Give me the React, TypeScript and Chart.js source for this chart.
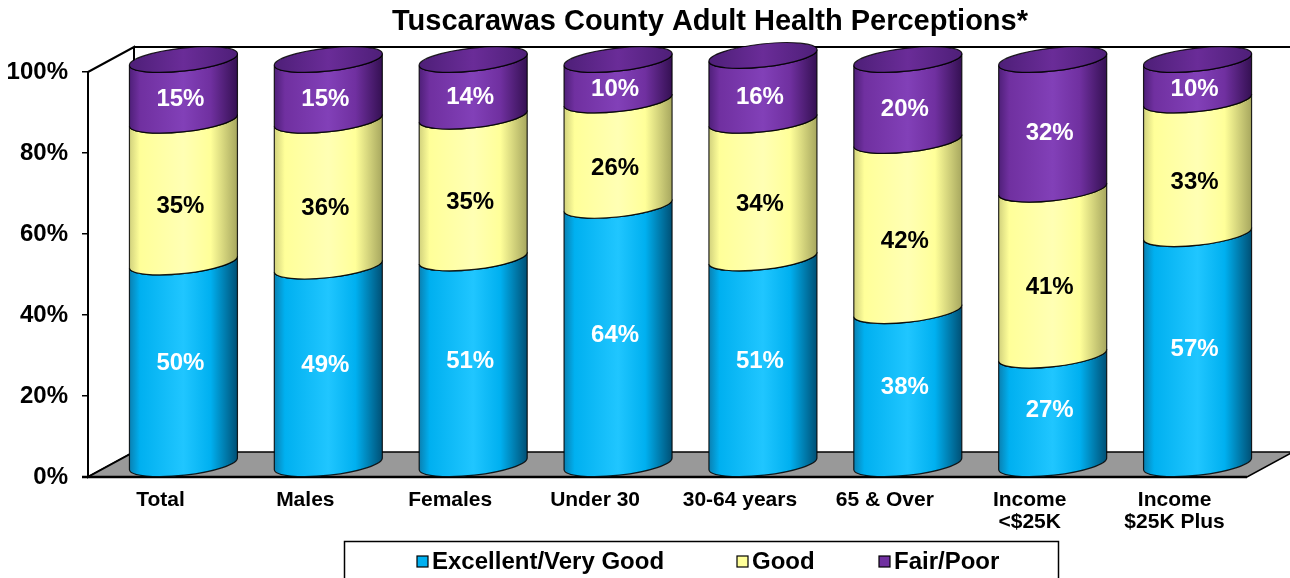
import React, { useEffect, useRef } from "react";
import { Chart, registerables } from "chart.js";

Chart.register(...registerables);

const categories: (string | string[])[] = [
  "Total",
  "Males",
  "Females",
  "Under 30",
  "30-64 years",
  "65 & Over",
  ["Income", "<$25K"],
  ["Income", "$25K Plus"],
];
const excellentVeryGood = [50, 49, 51, 64, 51, 38, 27, 57];
const good = [35, 36, 35, 26, 34, 42, 41, 33];
const fairPoor = [15, 15, 14, 10, 16, 20, 32, 10];
const seriesNames = ["Excellent/Very Good", "Good", "Fair/Poor"];
const titleText = "Tuscarawas County Adult Health Perceptions*";

const FONT = '"Liberation Sans", Arial, sans-serif';
const DX = 46;
const DY = -25;

type Shade = { base: string; edgeL: string; edgeR: string; hi: string; top: string; label: string; labelDy: number };
const shades: Shade[] = [
  { base: "#00B0F0", edgeL: "#0a7fb0", edgeR: "#004f74", hi: "#20c6ff", top: "#00a6e0", label: "#ffffff", labelDy: -12 },
  { base: "#FFFF99", edgeL: "#d0d07c", edgeR: "#a6a65e", hi: "#ffffb4", top: "#f4f490", label: "#000000", labelDy: 3 },
  { base: "#7030A0", edgeL: "#4e1f78", edgeR: "#341052", hi: "#8240b8", top: "#6a2c98", label: "#ffffff", labelDy: -3 },
];

const cylPlugin = {
  id: "cyl3d",
  beforeDatasetsDraw(chart: any) {
    const ctx = chart.ctx as CanvasRenderingContext2D;
    const { left: L, right: R, top: T, bottom: B } = chart.chartArea;
    ctx.save();
    // back wall
    ctx.fillStyle = "#ffffff";
    ctx.fillRect(L + DX, T + DY, chart.width, B - T);
    // left wall
    ctx.beginPath();
    ctx.moveTo(L, T);
    ctx.lineTo(L + DX, T + DY);
    ctx.lineTo(L + DX, B + DY);
    ctx.lineTo(L, B);
    ctx.closePath();
    ctx.fill();
    ctx.strokeStyle = "#000";
    ctx.lineWidth = 2;
    ctx.stroke();
    // back wall top line
    ctx.beginPath();
    ctx.moveTo(L + DX, T + DY);
    ctx.lineTo(chart.width + 5, T + DY);
    ctx.stroke();
    // floor
    ctx.beginPath();
    ctx.moveTo(L, B);
    ctx.lineTo(L + DX, B + DY);
    ctx.lineTo(R + DX, B + DY);
    ctx.lineTo(R, B);
    ctx.closePath();
    ctx.fillStyle = "#999999";
    ctx.fill();
    ctx.lineWidth = 1.5;
    ctx.stroke();
    ctx.beginPath();
    ctx.moveTo(L - 6, B);
    ctx.lineTo(R, B);
    ctx.lineWidth = 2.5;
    ctx.stroke();

    // cylinders
    const nSets = chart.data.datasets.length;
    const rot = -0.11;
    const bRad = 11.5;
    const metas = [];
    for (let d = 0; d < nSets; d++) metas.push(chart.getDatasetMeta(d));
    const count = metas[0].data.length;
    for (let i = 0; i < count; i++) {
      for (let d = 0; d < nSets; d++) {
        const bar: any = metas[d].data[i];
        const sh = shades[d];
        const cx = bar.x + DX / 2;
        const a = bar.width / 2;
        const yb = bar.base + DY / 2;
        const yt = bar.y + DY / 2;
        const g = ctx.createLinearGradient(cx - a, 0, cx + a, 0);
        g.addColorStop(0, sh.edgeL);
        g.addColorStop(0.1, sh.base);
        g.addColorStop(0.5, sh.hi);
        g.addColorStop(0.75, sh.base);
        g.addColorStop(1, sh.edgeR);
        ctx.beginPath();
        ctx.ellipse(cx, yb, a, bRad, rot, 0, Math.PI, false);
        ctx.ellipse(cx, yt, a, bRad, rot, Math.PI, 0, true);
        ctx.closePath();
        ctx.fillStyle = g;
        ctx.fill();
        ctx.strokeStyle = "rgba(0,0,0,0.85)";
        ctx.lineWidth = 1.2;
        ctx.stroke();
        if (d === nSets - 1) {
          const gt = ctx.createLinearGradient(cx - a, 0, cx + a, 0);
          gt.addColorStop(0, sh.edgeL);
          gt.addColorStop(0.5, sh.top);
          gt.addColorStop(1, sh.edgeL);
          ctx.beginPath();
          ctx.ellipse(cx, yt, a, bRad, rot, 0, Math.PI * 2);
          ctx.fillStyle = gt;
          ctx.fill();
          ctx.stroke();
        }
      }
    }
    // labels
    ctx.font = `bold 24px ${FONT}`;
    ctx.textAlign = "center";
    ctx.textBaseline = "middle";
    for (let d = 0; d < nSets; d++) {
      const ds = chart.data.datasets[d];
      metas[d].data.forEach((bar: any, i: number) => {
        ctx.fillStyle = shades[d].label;
        ctx.fillText(`${ds.data[i]}%`, bar.x + 20, (bar.y + bar.base) / 2 + shades[d].labelDy);
      });
    }
    ctx.restore();
    return false;
  },
  afterDraw(chart: any) {
    const ctx = chart.ctx as CanvasRenderingContext2D;
    ctx.save();
    // title
    ctx.fillStyle = "#000";
    ctx.font = `bold 29px ${FONT}`;
    ctx.textAlign = "center";
    ctx.textBaseline = "middle";
    ctx.fillText(titleText, 710, 22);
    // legend
    ctx.strokeStyle = "#000";
    ctx.lineWidth = 1.5;
    ctx.strokeRect(344.5, 541.5, 714, 60);
    ctx.font = `bold 24px ${FONT}`;
    ctx.textAlign = "left";
    const xs = [417, 737, 879];
    chart.data.datasets.forEach((ds: any, d: number) => {
      const x = xs[d];
      ctx.fillStyle = ds.backgroundColor;
      ctx.fillRect(x, 556, 11, 11);
      ctx.strokeStyle = "#000";
      ctx.lineWidth = 1.2;
      ctx.strokeRect(x, 556, 11, 11);
      ctx.fillStyle = "#000";
      ctx.fillText(seriesNames[d], x + 15, 562);
    });
    ctx.restore();
  },
};

export default function App() {
  const ref = useRef<HTMLCanvasElement>(null);
  useEffect(() => {
    if (!ref.current) return;
    const chart = new Chart(ref.current, {
      type: "bar",
      data: {
        labels: categories,
        datasets: [
          { label: seriesNames[0], data: excellentVeryGood, backgroundColor: "#00B0F0" },
          { label: seriesNames[1], data: good, backgroundColor: "#FFFF99" },
          { label: seriesNames[2], data: fairPoor, backgroundColor: "#7030A0" },
        ],
      },
      options: {
        animation: false,
        responsive: false,
        layout: { padding: { top: 72, right: 43, left: 0, bottom: 0 } },
        datasets: { bar: { categoryPercentage: 1, barPercentage: 0.75 } },
        plugins: { legend: { display: false }, title: { display: false }, tooltip: { enabled: false } },
        scales: {
          x: {
            stacked: true,
            grid: { display: false },
            border: { display: false },
            ticks: { color: "#000", font: { family: FONT, size: 21, weight: "bold", lineHeight: 1.05 }, padding: 4, maxRotation: 0, autoSkip: false },
            afterFit: (s: any) => { s.height = 101; },
          },
          y: {
            stacked: true,
            min: 0,
            max: 100,
            grid: { drawOnChartArea: false, tickLength: 6, color: "#000", lineWidth: 1.5 },
            border: { display: false },
            ticks: {
              stepSize: 20,
              color: "#000",
              padding: 14,
              font: { family: FONT, size: 24, weight: "bold" },
              callback: (v: any) => `${v}%`,
            },
            afterFit: (s: any) => { s.width = 88; },
          },
        },
      },
      plugins: [cylPlugin],
    });
    return () => chart.destroy();
  }, []);
  return (
    <div style={{ position: "absolute", left: 0, top: 0, width: 1290, height: 578, background: "#fff" }}>
      <canvas ref={ref} width={1290} height={578} />
    </div>
  );
}
